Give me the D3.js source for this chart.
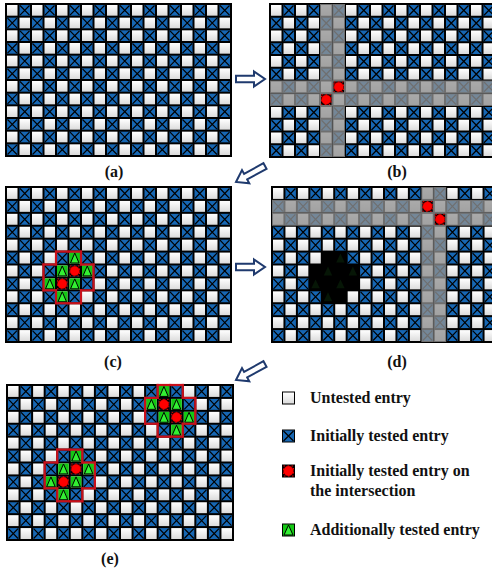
<!DOCTYPE html>
<html>
<head>
<meta charset="utf-8">
<script src="https://cdn.jsdelivr.net/npm/d3@7"></script>
<style>
  body { margin: 0; background: #fff; }
</style>
</head>
<body>
<div id="chart"></div>
<script>
// grid size
var nRows = 12, nCols = 18;

// shaded bands (rows / columns) in step (b) and (d)
var bandRowsB = [6, 7], bandColsB = [4, 5];
var bandRowsD = [1, 2], bandColsD = [12, 13];

// initially tested entries on the intersection [row, col]
var hitsFirst = [[6, 5], [7, 4]];
var hitsSecond = [[1, 12], [2, 13]];

// additionally tested entries [row, col]
var extraFirst = [[5, 5], [6, 4], [6, 6], [7, 3], [7, 5], [8, 4]];
var extraSecond = [[0, 12], [1, 11], [1, 13], [2, 12], [2, 14], [3, 13]];

// outlined regions [row, firstCol, lastCol]
var regionFirst = [[5, 4, 5], [6, 3, 6], [7, 3, 6], [8, 4, 5]];
var regionSecond = [[0, 12, 13], [1, 11, 14], [2, 11, 14], [3, 12, 13]];

var panelNames = ["(a)", "(b)", "(c)", "(d)", "(e)"];
var legendKinds = ["untested", "tested", "hit", "extra"];
var legendLabels = [["Untested entry"], ["Initially tested entry"],
    ["Initially tested entry on", "the intersection"], ["Additionally tested entry"]];

var width = 492, height = 574;

var svg = d3.select("#chart")
    .append("svg")
    .attr("width", width)
    .attr("height", height)
    .style("font-family", "'Liberation Serif', 'Times New Roman', serif");

// light shading for untested cells
var grad = svg.append("defs").append("linearGradient")
    .attr("id", "whiteCell")
    .attr("x1", 0).attr("y1", 0).attr("x2", 0).attr("y2", 1);
grad.append("stop").attr("offset", "0%").attr("stop-color", "#ffffff");
grad.append("stop").attr("offset", "100%").attr("stop-color", "#dcdcdc");

var BLUE = "#1767b3";

// draws one cell of a given kind into a group placed at the cell's corner
function drawCell(g, kind, w, h) {
    if (kind === "untested") {
        g.append("rect").attr("x", 1).attr("y", 1).attr("width", w - 2).attr("height", h - 2)
            .attr("fill", "url(#whiteCell)");
    } else if (kind === "tested") {
        g.append("rect").attr("x", 1).attr("y", 1).attr("width", w - 2).attr("height", h - 2)
            .attr("fill", BLUE);
        g.append("path")
            .attr("d", `M1.5,1.5L${w - 1.5},${h - 1.5}M${w - 1.5},1.5L1.5,${h - 1.5}`)
            .attr("stroke", "#000").attr("stroke-width", 1.2);
    } else if (kind === "hit") {
        g.append("rect").attr("x", 1).attr("y", 1).attr("width", w - 2).attr("height", h - 2)
            .attr("fill", "#000");
        g.append("rect").attr("x", 1.5).attr("y", 1.5).attr("width", w - 3).attr("height", h - 3)
            .attr("fill", "none").attr("stroke", "#e00").attr("stroke-width", 1)
            .attr("stroke-dasharray", "1.5,2.5");
        g.append("circle").attr("cx", w / 2).attr("cy", h / 2).attr("r", Math.min(w, h) * 0.38)
            .attr("fill", "#ff0000").attr("stroke", "#b00000").attr("stroke-width", 0.5);
    } else if (kind === "extra") {
        g.append("rect").attr("x", 1).attr("y", 1).attr("width", w - 2).attr("height", h - 2)
            .attr("fill", "#14c814");
        g.append("path")
            .attr("d", `M${w / 2},1.5L${w - 2},${h - 1.5}L2,${h - 1.5}Z`)
            .attr("fill", "#33f033").attr("stroke", "#000").attr("stroke-width", 1);
    }
}

var panels = [
    { name: panelNames[0], x: 6, y: 4, w: 225, h: 152, lx: 114, ly: 177 },
    { name: panelNames[1], x: 270, y: 4, w: 225, h: 153, lx: 397, ly: 177,
      bandRows: bandRowsB, bandCols: bandColsB, hits: hitsFirst },
    { name: panelNames[2], x: 6, y: 187, w: 225, h: 155, lx: 113, ly: 367,
      hits: hitsFirst, extra: extraFirst, regions: [regionFirst] },
    { name: panelNames[3], x: 272, y: 187, w: 224, h: 155, lx: 397, ly: 367,
      bandRows: bandRowsD, bandCols: bandColsD, hits: hitsSecond,
      blacked: regionFirst, blackedExtra: extraFirst },
    { name: panelNames[4], x: 7, y: 385, w: 226, h: 155, lx: 110, ly: 564,
      hits: hitsFirst.concat(hitsSecond), extra: extraFirst.concat(extraSecond),
      regions: [regionFirst, regionSecond] }
];

panels.forEach(function (p) {
    var g = svg.append("g").attr("transform", `translate(${p.x},${p.y})`);
    var xs = d3.scaleBand().domain(d3.range(nCols)).range([0, p.w]);
    var ys = d3.scaleBand().domain(d3.range(nRows)).range([0, p.h]);
    var cw = xs.bandwidth(), ch = ys.bandwidth();

    // black grid background
    g.append("rect").attr("x", -1).attr("y", -1)
        .attr("width", p.w + 2).attr("height", p.h + 2).attr("fill", "#000");

    var cells = [];
    d3.range(nRows).forEach(function (r) {
        d3.range(nCols).forEach(function (c) {
            cells.push({ r: r, c: c, kind: (r + c) % 2 === 1 ? "tested" : "untested" });
        });
    });

    g.selectAll(".cell")
        .data(cells)
        .enter()
        .append("g")
        .attr("class", "cell")
        .attr("transform", d => `translate(${xs(d.c)},${ys(d.r)})`)
        .each(function (d) { drawCell(d3.select(this), d.kind, cw, ch); });

    // additionally tested entries
    if (p.extra) {
        g.selectAll(".extra")
            .data(p.extra)
            .enter()
            .append("g")
            .attr("transform", d => `translate(${xs(d[1])},${ys(d[0])})`)
            .each(function () { drawCell(d3.select(this), "extra", cw, ch); });
    }

    // shaded row and column bands
    if (p.bandRows) {
        var band = g.append("g").attr("opacity", 0.77);
        band.selectAll(".brow")
            .data(p.bandRows)
            .enter()
            .append("rect")
            .attr("x", 0).attr("width", p.w)
            .attr("y", d => ys(d)).attr("height", ch)
            .attr("fill", "#919191");
        band.selectAll(".bcol")
            .data(p.bandCols)
            .enter()
            .append("rect")
            .attr("y", 0).attr("height", p.h)
            .attr("x", d => xs(d)).attr("width", cw)
            .attr("fill", "#919191");
    }

    // region hidden after being processed
    if (p.blacked) {
        g.selectAll(".blk")
            .data(p.blacked)
            .enter()
            .append("rect")
            .attr("x", d => xs(d[1]))
            .attr("width", d => xs(d[2]) + cw - xs(d[1]))
            .attr("y", d => ys(d[0]) - 0.5)
            .attr("height", ch + 1)
            .attr("fill", "#000");
        g.selectAll(".blkTri")
            .data(p.blackedExtra)
            .enter()
            .append("path")
            .attr("d", d => {
                var x0 = xs(d[1]), y0 = ys(d[0]);
                return `M${x0 + cw / 2},${y0 + 2}L${x0 + cw - 2},${y0 + ch - 2}L${x0 + 2},${y0 + ch - 2}Z`;
            })
            .attr("fill", "#061606");
    }

    // entries on the intersection
    if (p.hits) {
        g.selectAll(".hit")
            .data(p.hits)
            .enter()
            .append("g")
            .attr("transform", d => `translate(${xs(d[1])},${ys(d[0])})`)
            .each(function () { drawCell(d3.select(this), "hit", cw, ch); });
    }

    // red outline around each region
    if (p.regions) {
        p.regions.forEach(function (reg) {
            var inside = new Set();
            reg.forEach(function (s) {
                d3.range(s[1], s[2] + 1).forEach(c => inside.add(s[0] + "-" + c));
            });
            var segs = [];
            inside.forEach(function (k) {
                var rc = k.split("-").map(Number), r = rc[0], c = rc[1];
                var x0 = xs(c), y0 = ys(r), x1 = x0 + cw, y1 = y0 + ch;
                if (!inside.has((r - 1) + "-" + c)) segs.push([x0, y0, x1, y0]);
                if (!inside.has((r + 1) + "-" + c)) segs.push([x0, y1, x1, y1]);
                if (!inside.has(r + "-" + (c - 1))) segs.push([x0, y0, x0, y1]);
                if (!inside.has(r + "-" + (c + 1))) segs.push([x1, y0, x1, y1]);
            });
            g.append("g").selectAll("line")
                .data(segs)
                .enter()
                .append("line")
                .attr("x1", d => d[0]).attr("y1", d => d[1])
                .attr("x2", d => d[2]).attr("y2", d => d[3])
                .attr("stroke", "#c8101a")
                .attr("stroke-width", 2.2)
                .attr("stroke-linecap", "square");
        });
    }

    // panel label
    svg.append("text")
        .attr("x", p.lx)
        .attr("y", p.ly)
        .attr("text-anchor", "middle")
        .style("font-size", "16px")
        .style("font-weight", "bold")
        .style("fill", "#111")
        .text(p.name);
});

// hollow block arrows between steps
var arrows = [
    { x1: 236, y1: 79, x2: 265, y2: 79 },
    { x1: 265, y1: 166, x2: 236, y2: 182 },
    { x1: 236, y1: 267, x2: 265, y2: 267 },
    { x1: 265, y1: 364, x2: 236, y2: 380 }
];
arrows.forEach(function (a) {
    var len = Math.hypot(a.x2 - a.x1, a.y2 - a.y1);
    var ang = Math.atan2(a.y2 - a.y1, a.x2 - a.x1) * 180 / Math.PI;
    var h = 3.2, hh = 7.5, k = 11;
    var pts = [[0, -h], [len - k, -h], [len - k, -hh], [len, 0], [len - k, hh], [len - k, h], [0, h]];
    svg.append("path")
        .attr("transform", `translate(${a.x1},${a.y1}) rotate(${ang})`)
        .attr("d", d3.line()(pts) + "Z")
        .attr("fill", "#fff")
        .attr("stroke", "#1f3a6e")
        .attr("stroke-width", 2)
        .attr("stroke-linejoin", "miter");
});

// legend
var legendY = [398, 436, 471, 530];
var legend = svg.selectAll(".legend")
    .data(legendKinds)
    .enter()
    .append("g")
    .attr("class", "legend")
    .attr("transform", (d, i) => `translate(282, ${legendY[i]})`);

legend.append("g")
    .attr("transform", "translate(0,-6.5)")
    .each(function (d) {
        var s = d3.select(this);
        s.append("rect").attr("width", 13).attr("height", 13).attr("fill", "#000");
        drawCell(s, d, 13, 13);
    });

legend.append("text")
    .attr("x", 28)
    .attr("y", 5)
    .style("font-size", "16px")
    .style("font-weight", "bold")
    .style("fill", "#111")
    .each(function (d, i) {
        var t = d3.select(this);
        legendLabels[i].forEach(function (line, j) {
            t.append("tspan").attr("x", 28).attr("dy", j === 0 ? 0 : 20).text(line);
        });
    });
</script>
</body>
</html>
